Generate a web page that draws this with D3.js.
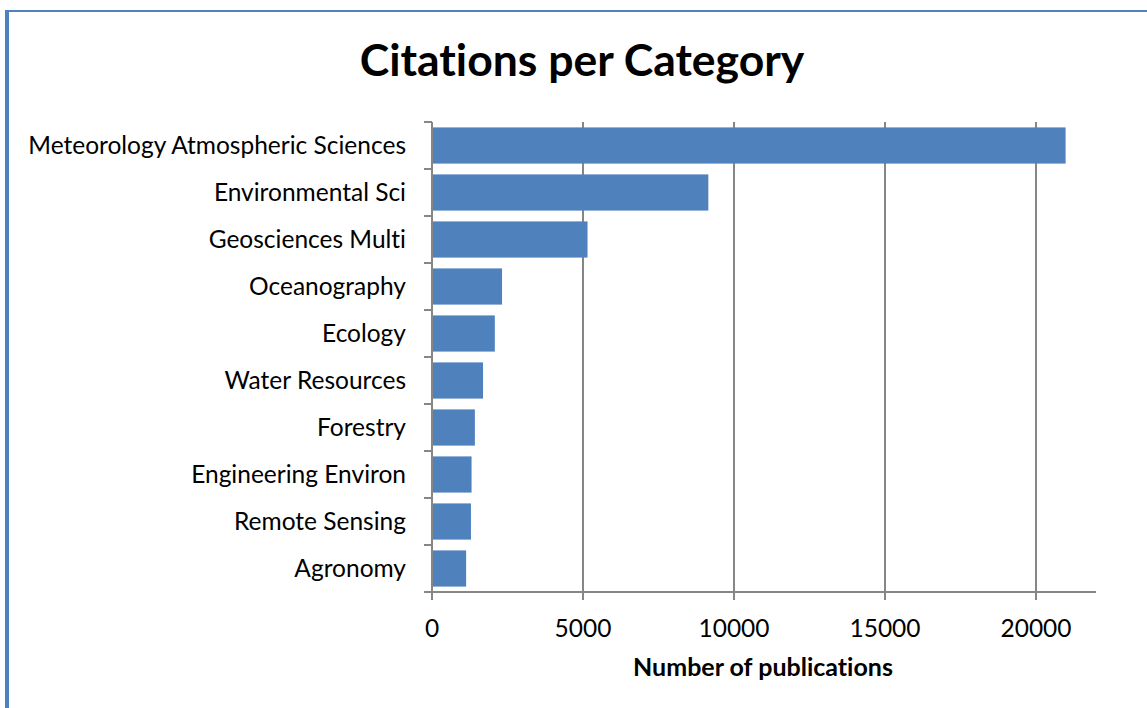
<!DOCTYPE html>
<html><head><meta charset="utf-8">
<script src="https://cdn.jsdelivr.net/npm/d3@7"></script>
<style>body{margin:0;background:#fff}svg{display:block}text{font-family:Lato,"Open Sans",sans-serif;font-variant-ligatures:none}</style>
</head><body><svg id="c" width="1147" height="708"></svg>
<script>
const categories = ["Meteorology Atmospheric Sciences","Environmental Sci","Geosciences Multi","Oceanography","Ecology","Water Resources","Forestry","Engineering Environ","Remote Sensing","Agronomy"];
const values = [20980, 9150, 5150, 2320, 2080, 1690, 1420, 1310, 1290, 1130];
const xTicks = [0, 5000, 10000, 15000, 20000];
const title = "Citations per Category";
const xTitle = "Number of publications";

(function(){
const svg = d3.select("#c");
const blue = "#4f81bd", gray = "#868686";
svg.append("line").attr("x1",5).attr("x2",1147).attr("y1",11).attr("y2",11).attr("stroke",blue).attr("stroke-width",2);
svg.append("line").attr("x1",7).attr("x2",7).attr("y1",10).attr("y2",708).attr("stroke",blue).attr("stroke-width",4);

const pLeft = 432, pRight = 1096, pTop = 122, pBottom = 592;
const x = d3.scaleLinear().domain([0, 22000]).range([pLeft, pLeft + 151*22000/5000]);
const y = d3.scaleBand().domain(categories).range([pTop, pBottom]).paddingInner(0.23).paddingOuter(0.115);

svg.append("g").selectAll("line").data(xTicks.slice(1)).join("line")
  .attr("x1",d=>x(d)).attr("x2",d=>x(d)).attr("y1",pTop).attr("y2",pBottom)
  .attr("stroke",gray).attr("stroke-width",2);

svg.append("g").selectAll("rect").data(categories).join("rect")
  .attr("x",x(0)).attr("y",d=>y(d)).attr("height",y.bandwidth())
  .attr("width",(d,i)=>x(values[i])-x(0)).attr("fill",blue);

const bandStep = (pBottom-pTop)/categories.length;
const yb = svg.append("g");
yb.append("line").attr("x1",pLeft).attr("x2",pLeft).attr("y1",pTop).attr("y2",pBottom+8).attr("stroke",gray).attr("stroke-width",2);
yb.selectAll("line.t").data(d3.range(categories.length+1)).join("line").attr("class","t")
  .attr("x1",pLeft-8).attr("x2",pLeft).attr("y1",i=>pTop+i*bandStep).attr("y2",i=>pTop+i*bandStep)
  .attr("stroke",gray).attr("stroke-width",2);
yb.selectAll("text").data(categories).join("text")
  .attr("x",406).attr("y",d=>y(d)+y.bandwidth()/2).attr("dy","0.35em")
  .attr("text-anchor","end").attr("font-size",24.5).attr("fill","#000").text(d=>d);

const xa = svg.append("g");
xa.append("line").attr("x1",pLeft-8).attr("x2",pRight).attr("y1",pBottom).attr("y2",pBottom).attr("stroke",gray).attr("stroke-width",2);
xa.selectAll("line.t").data(xTicks).join("line").attr("class","t")
  .attr("x1",d=>x(d)).attr("x2",d=>x(d)).attr("y1",pBottom).attr("y2",pBottom+8)
  .attr("stroke",gray).attr("stroke-width",2);
xa.selectAll("text").data(xTicks).join("text")
  .attr("x",d=>x(d)).attr("y",637).attr("text-anchor","middle").attr("font-size",24.5).text(d=>d);

svg.append("text").attr("x",763).attr("y",676).attr("text-anchor","middle")
  .attr("font-size",25).attr("font-weight","bold").text(xTitle);
svg.append("text").attr("x",582).attr("y",76).attr("text-anchor","middle")
  .attr("font-size",44.5).attr("font-weight","bold").text(title);
})();
</script></body></html>
